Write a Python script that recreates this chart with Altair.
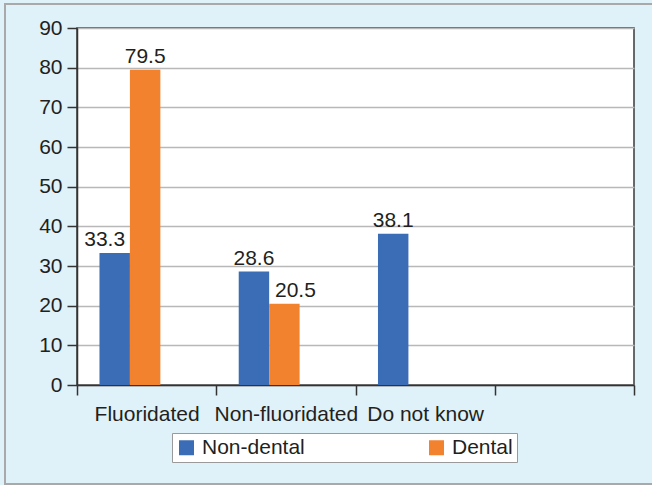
import altair as alt
import pandas as pd

# Survey answers by respondent group (percent)
categories = ["Fluoridated", "Non-fluoridated", "Do not know", ""]
groups = ["Non-dental", "Dental"]
non_dental = [33.3, 28.6, 38.1]
dental = [79.5, 20.5]
y_ticks = [0, 10, 20, 30, 40, 50, 60, 70, 80, 90]

rows = []
for cat, val in zip(categories, non_dental):
    rows.append({"category": cat, "group": "Non-dental", "value": val})
for cat, val in zip(categories, dental):
    rows.append({"category": cat, "group": "Dental", "value": val})
df = pd.DataFrame(rows)

FONT = "Liberation Sans"
INK = "#231f20"
colors = ["#3a6db5", "#f3822f"]

# an empty third slot keeps each pair of bars narrow within its band
offset_slots = groups + ["spare"]

x_enc = alt.X(
    "category:N",
    sort=categories,
    scale=alt.Scale(domain=categories, paddingInner=0, paddingOuter=0),
    axis=alt.Axis(
        title=None,
        labelAngle=0,
        tickBand="extent",
        tickSize=10,
        tickColor="#333333",
        tickWidth=1.5,
        domainColor="#333333",
        domainWidth=1.5,
        labelFontSize=21,
        labelColor=INK,
        labelFont=FONT,
        labelPadding=8,
        labelOverlap=False,
        grid=False,
    ),
)
xoff_enc = alt.XOffset(
    "group:N",
    scale=alt.Scale(domain=offset_slots, paddingInner=0, paddingOuter=0.787, align=0.469),
)
y_enc = alt.Y(
    "value:Q",
    scale=alt.Scale(domain=[0, 90], nice=False),
    axis=alt.Axis(
        title=None,
        values=y_ticks,
        tickSize=10,
        tickColor="#333333",
        tickWidth=1.5,
        domainColor="#333333",
        domainWidth=1.5,
        labelFontSize=21,
        labelColor=INK,
        labelFont=FONT,
        labelPadding=5,
        labelOverlap=False,
        labelBound=False,
        labelFlush=False,
        grid=True,
        gridColor="#b8b8b8",
        gridWidth=1.5,
    ),
)

bars = alt.Chart(df).mark_bar().encode(
    x=x_enc,
    xOffset=xoff_enc,
    y=y_enc,
    color=alt.Color(
        "group:N",
        sort=groups,
        scale=alt.Scale(domain=groups, range=colors),
        legend=alt.Legend(
            title=None,
            orient="none",
            legendX=95,
            legendY=405,
            direction="horizontal",
            fillColor="white",
            strokeColor="#9a9a9a",
            padding=4,
            columnPadding=121,
            symbolType="square",
            symbolSize=225,
            symbolStrokeWidth=0,
            labelFontSize=21,
            labelFont=FONT,
            labelColor=INK,
            labelOffset=5,
        ),
    ),
)


def value_labels(condition, dx):
    """Value text above the bars selected by `condition`, nudged sideways by dx."""
    return (
        alt.Chart(df)
        .transform_filter(condition)
        .mark_text(baseline="bottom", dy=-3, dx=dx, fontSize=21, font=FONT, color=INK)
        .encode(
            x=x_enc,
            xOffset=xoff_enc,
            y=y_enc,
            text=alt.Text("value:Q", format=".1f"),
        )
    )


# labels that would crowd a neighbouring bar are shifted aside
left_shift = "datum.category === 'Fluoridated' && datum.group === 'Non-dental'"
right_shift = "datum.category === 'Non-fluoridated' && datum.group === 'Dental'"
centered = f"!({left_shift}) && !({right_shift})"

labels = alt.layer(
    value_labels(centered, 0),
    value_labels(left_shift, -10),
    value_labels(right_shift, 11),
)

# thin frame around the whole figure
frame = alt.Chart(alt.Data(values=[{}])).mark_rect(
    fill="transparent", stroke="#a9a9a9", strokeWidth=2
).encode(
    x=alt.value(-72), x2=alt.value(600), y=alt.value(-24), y2=alt.value(456)
)

chart = (
    alt.layer(frame, bars, labels)
    .properties(
        width=557,
        height=357,
        autosize=alt.AutoSizeParams(type="none"),
        padding={"left": 77, "top": 28, "right": 18, "bottom": 100},
        background="#dff1f9",
    )
    .configure_view(fill="white", stroke="#3a3a3a", strokeWidth=1.5)
)

chart.save("out.html", embed_options={"renderer": "svg", "actions": False})
